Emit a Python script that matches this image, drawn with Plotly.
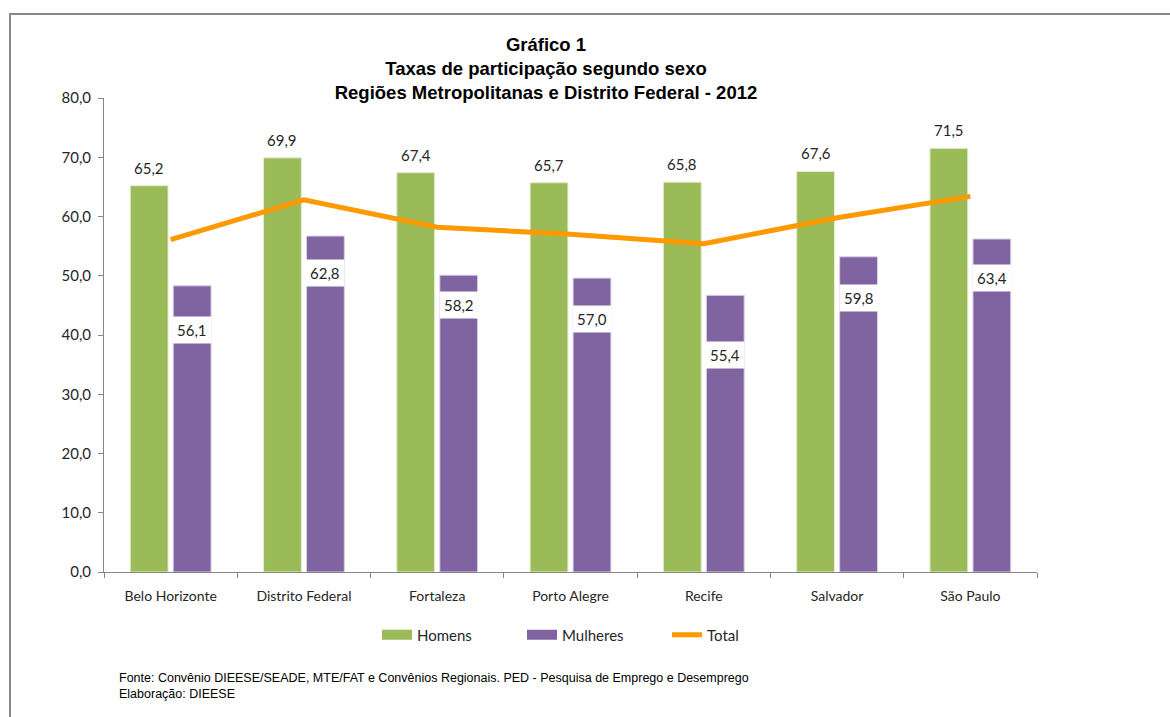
import plotly.graph_objects as go

# Participation rates by sex, metropolitan regions and Distrito Federal, 2012
regioes = ["Belo Horizonte", "Distrito Federal", "Fortaleza", "Porto Alegre",
           "Recife", "Salvador", "São Paulo"]
homens = [65.2, 69.9, 67.4, 65.7, 65.8, 67.6, 71.5]
mulheres = [48.3, 56.7, 50.1, 49.6, 46.7, 53.2, 56.2]
total = [56.1, 62.8, 58.2, 57.0, 55.4, 59.8, 63.4]
y_ticks = [0, 10, 20, 30, 40, 50, 60, 70, 80]

# heights (axis units) at which the boxed "Total" labels sit
total_label_y = [40.9, 50.5, 45.1, 42.7, 36.6, 46.2, 49.6]

VERDE = "#9BBB59"
ROXO = "#8064A2"
LARANJA = "#FF9900"
TXT = "#262626"
LABEL_FONT = "Lato, 'Open Sans', sans-serif"


def br(v):
    return f"{v:.1f}".replace(".", ",")


fig = go.Figure()

fig.add_trace(go.Bar(
    x=regioes, y=homens, name="Homens", legendgroup="h", showlegend=False,
    marker=dict(color=VERDE, line=dict(color="#E3ECD0", width=1)),
    hoverinfo="x+y",
))
fig.add_trace(go.Bar(
    x=regioes, y=mulheres, name="Mulheres", legendgroup="m", showlegend=False,
    marker=dict(color=ROXO, line=dict(color="#D9D0E6", width=1)),
    hoverinfo="x+y",
))
fig.add_trace(go.Scatter(
    x=regioes, y=total, name="Total", mode="lines", showlegend=False,
    line=dict(color=LARANJA, width=5), legendgroup="t",
))

# legend keys: wide swatches for the bar series, thick stroke for the line
fig.add_trace(go.Scatter(x=[None], y=[None], mode="lines", name="Homens",
                         legendgroup="h", line=dict(color=VERDE, width=10)))
fig.add_trace(go.Scatter(x=[None], y=[None], mode="lines", name="Mulheres",
                         legendgroup="m", line=dict(color=ROXO, width=10)))
fig.add_trace(go.Scatter(x=[None], y=[None], mode="lines", name="Total",
                         legendgroup="t", line=dict(color=LARANJA, width=5)))

annotations = []
# values above the Homens bars
for reg, v in zip(regioes, homens):
    annotations.append(dict(
        x=reg, y=v, xref="x", yref="y", text=br(v), showarrow=False,
        xanchor="center", yanchor="bottom", xshift=-21.5, yshift=7,
        font=dict(family=LABEL_FONT, size=15, color=TXT),
    ))
# boxed Total values
for reg, v, ly in zip(regioes, total, total_label_y):
    annotations.append(dict(
        x=reg, y=ly, xref="x", yref="y", text=br(v), showarrow=False,
        xanchor="center", yanchor="middle", xshift=21.5,
        bgcolor="white", borderpad=4,
        font=dict(family=LABEL_FONT, size=15, color=TXT),
    ))
# source note
annotations.append(dict(
    x=(117 - 104) / 933, y=-0.2395, xref="paper", yref="paper",
    xanchor="left", yanchor="middle", align="left", showarrow=False,
    text=("Fonte: Convênio DIEESE/SEADE, MTE/FAT e Convênios Regionais. "
          "PED - Pesquisa de Emprego e Desemprego<br>Elaboração: DIEESE"),
    font=dict(family="'Liberation Sans', Arial, sans-serif", size=12.5, color="#000000"),
))

fig.update_layout(
    width=1170, height=717,
    margin=dict(l=104, r=133, t=98, b=145),
    paper_bgcolor="white", plot_bgcolor="white",
    separators=",.",
    barmode="group", bargap=0.355, bargroupgap=0.12,
    title=dict(
        text=("<b>Gráfico 1</b><br><b>Taxas de participação segundo sexo</b><br>"
              "<b>Regiões Metropolitanas e Distrito Federal - 2012</b>"),
        x=(546 - 104) / 933, xref="paper", xanchor="center",
        y=1 - 51 / 717, yref="container", yanchor="top",
        font=dict(family="'Liberation Sans', Arial, sans-serif", size=18.5, color="#000000"),
    ),
    xaxis=dict(
        type="category", showline=True, linecolor="#868686", linewidth=1,
        ticks="outside", tickson="boundaries", ticklen=5, tickcolor="#868686",
        ticklabelstandoff=11,
        showgrid=False, tickfont=dict(family=LABEL_FONT, size=14, color=TXT),
    ),
    yaxis=dict(
        range=[0, 80], tickvals=y_ticks, tickformat=".1f",
        showline=True, linecolor="#868686", linewidth=1,
        ticks="outside", ticklen=5, tickcolor="#868686",
        ticklabelstandoff=4,
        showgrid=False, zeroline=False,
        tickfont=dict(family=LABEL_FONT, size=15, color=TXT),
    ),
    legend=dict(
        orientation="h", x=(377 - 104) / 933, xanchor="left",
        y=(572 - 635) / 474, yanchor="middle",
        entrywidth=100, entrywidthmode="pixels",
        font=dict(family=LABEL_FONT, size=15, color=TXT),
        bgcolor="rgba(0,0,0,0)",
    ),
    annotations=annotations,
    shapes=[dict(
        type="rect", xref="paper", yref="paper",
        x0=(10 - 104) / 933, x1=(1180 - 104) / 933,
        y0=(572 - 730) / 474, y1=(572 - 14) / 474,
        line=dict(color="#888888", width=2), fillcolor="rgba(0,0,0,0)",
        layer="below",
    )],
)

fig.write_html("out.html")
